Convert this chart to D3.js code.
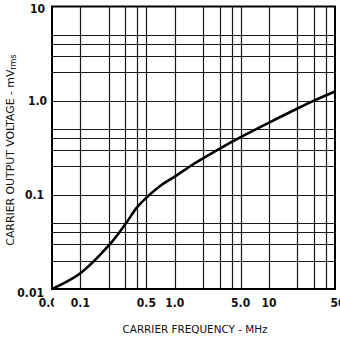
<!DOCTYPE html>
<html><head><meta charset="utf-8">
<script src="https://cdn.jsdelivr.net/npm/d3@7"></script>
<style>
html,body{margin:0;padding:0;background:#fff;}
svg{display:block;}
</style></head>
<body>
<svg id="chart" width="340" height="341"></svg>
<script>
// Data
const freqMHz = [0.05, 0.1, 0.2, 0.3, 0.4, 0.5, 0.7, 1, 1.5, 2, 3, 5, 10, 20, 30, 50];
const voltageMv = [0.01, 0.0147, 0.029, 0.049, 0.074, 0.093, 0.124, 0.156, 0.205, 0.244, 0.31, 0.41, 0.585, 0.825, 1.0, 1.25];
const xTickValues = [0.05, 0.1, 0.5, 1, 5, 10, 50];
const xTickLabels = ["0.05", "0.1", "0.5", "1.0", "5.0", "10", "50"];
const yTickValues = [0.01, 0.1, 1, 10];
const yTickLabels = ["0.01", "0.1", "1.0", "10"];
const gridMultipliers = [1, 2, 3, 4, 5];
const xDecades = [0.01, 0.1, 1, 10];
const yDecades = [0.01, 0.1, 1];

const svg = d3.select("#chart");
const L = 52, R = 335, T = 6.5, B = 289;
const x = d3.scaleLog().domain([0.05, 50]).range([L, R]);
const y = d3.scaleLog().domain([0.01, 10]).range([B, T]);

const xGrid = [];
xDecades.forEach(d => gridMultipliers.forEach(m => { const v = +(d*m).toPrecision(3); if (v > 0.05 && v < 50) xGrid.push(v); }));
const yGrid = [];
yDecades.forEach(d => gridMultipliers.forEach(m => { const v = +(d*m).toPrecision(3); if (v > 0.01 && v < 10) yGrid.push(v); }));

const g = svg.append("g");
g.selectAll("line.vx").data(xGrid).join("line")
  .attr("x1", d => Math.round(x(d)) + 0.5).attr("x2", d => Math.round(x(d)) + 0.5)
  .attr("y1", T).attr("y2", B)
  .attr("stroke", "#1a1a1a").attr("stroke-width", 1.2);
g.selectAll("line.hy").data(yGrid).join("line")
  .attr("y1", d => Math.round(y(d)) + 0.5).attr("y2", d => Math.round(y(d)) + 0.5)
  .attr("x1", L).attr("x2", R)
  .attr("stroke", "#1a1a1a").attr("stroke-width", 1.2);

g.append("rect").attr("x", L).attr("y", T).attr("width", R - L).attr("height", B - T)
  .attr("fill", "none").attr("stroke", "#000").attr("stroke-width", 2);

const line = d3.line().x((d, i) => x(freqMHz[i])).y(d => y(d)).curve(d3.curveCatmullRom.alpha(0.5));
g.append("path").datum(voltageMv).attr("d", line)
  .attr("fill", "none").attr("stroke", "#000").attr("stroke-width", 2.6);

const tickFont = "'Liberation Sans Narrow', 'DejaVu Sans Condensed', sans-serif";
svg.append("clipPath").attr("id", "cl").append("rect").attr("x", 0).attr("y", 0).attr("width", 54).attr("height", 341);

// x tick labels
svg.selectAll("text.xt").data(xTickValues).join("text")
  .attr("x", (d, i) => i === xTickValues.length - 1 ? x(d) + 3 : x(d)).attr("y", 307)
  .attr("text-anchor", "middle")
  .attr("clip-path", (d, i) => i === 0 ? "url(#cl)" : null)
  .attr("font-family", tickFont).attr("font-weight", "bold").attr("font-size", 12)
  .attr("fill", "#111")
  .text((d, i) => xTickLabels[i]);

// y tick labels
svg.selectAll("text.yt").data(yTickValues).join("text")
  .attr("x", d => d === 10 ? 45 : (d === 1 ? 47 : 44)).attr("y", d => y(d) + (d === 0.01 ? 8 : (d === 10 ? 6.5 : 4.5)))
  .attr("text-anchor", "end")
  .attr("font-family", tickFont).attr("font-weight", "bold").attr("font-size", 12)
  .attr("fill", "#111")
  .text((d, i) => yTickLabels[i]);

// axis titles
const titleFont = "'DejaVu Sans Condensed', 'Liberation Sans Narrow', sans-serif";
svg.append("text").attr("x", 195).attr("y", 333).attr("text-anchor", "middle")
  .attr("font-family", titleFont).attr("font-size", 11).attr("fill", "#111")
  .attr("textLength", 145).attr("lengthAdjust", "spacingAndGlyphs")
  .text("CARRIER FREQUENCY - MHz");

const yt = svg.append("text").attr("transform", "translate(14,150) rotate(-90)")
  .attr("text-anchor", "middle")
  .attr("font-family", titleFont).attr("font-size", 11).attr("fill", "#111");
yt.append("tspan").attr("textLength", 176).attr("lengthAdjust", "spacingAndGlyphs").text("CARRIER OUTPUT VOLTAGE - mV");
yt.append("tspan").attr("font-size", 9).attr("dy", 2).text("rms");
</script>
</body></html>
